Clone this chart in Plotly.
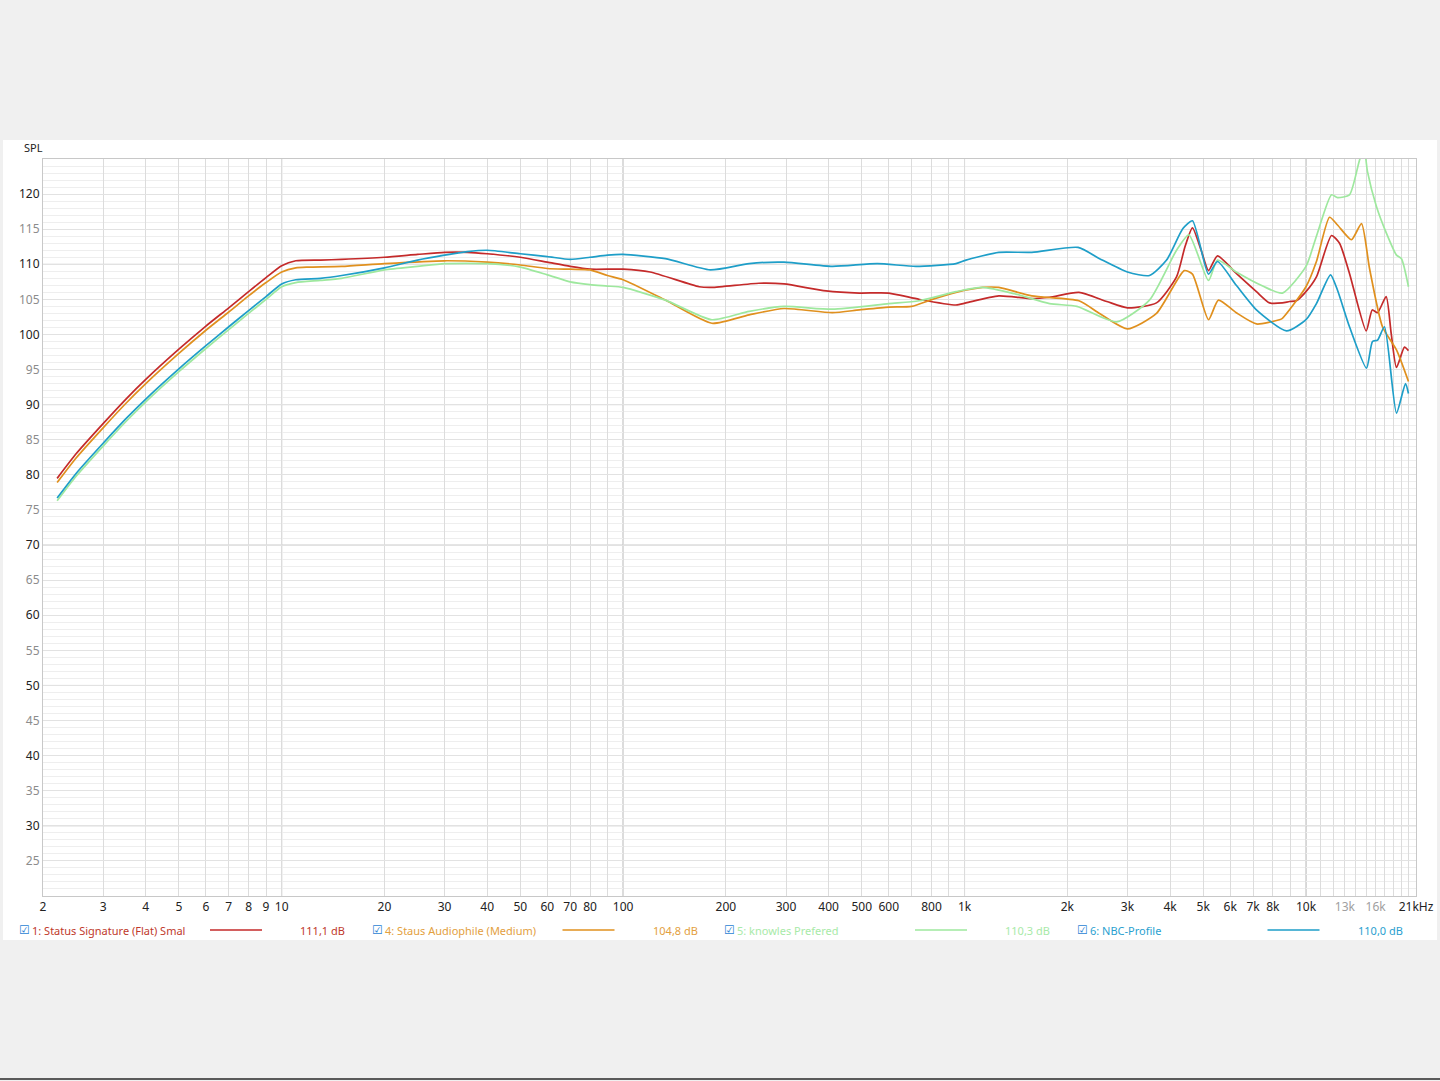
import numpy as np
import plotly.graph_objects as go

# ---------------- data ----------------
red_f = [2.2, 2.5, 3, 3.5, 4, 5, 6, 7, 8, 9, 10, 11, 13, 15, 20, 25, 30, 35, 40, 50, 60, 70, 80,
         100, 120, 167, 182, 250, 296, 393, 492, 600, 736, 944, 1010, 1260, 1574, 1774, 2163,
         2610, 3000, 3648, 4177, 4422, 4650, 4932, 5182, 5506, 6250, 7160, 7820, 8530, 8950,
         9370, 10000, 10730, 11880, 12540, 13410, 15010, 15630, 16200, 17170, 17760, 18410,
         19430, 19960]
red_db = [79.5, 83.0, 87.3, 90.8, 93.6, 97.9, 101.2, 103.8, 106.1, 108.1, 109.8, 110.5, 110.6,
          110.7, 111.0, 111.4, 111.7, 111.7, 111.5, 111.0, 110.3, 109.7, 109.3, 109.3, 108.9,
          106.8, 106.7, 107.3, 107.2, 106.2, 105.9, 105.9, 105.0, 104.2, 104.5, 105.5, 105.1,
          105.3, 106.0, 104.7, 103.8, 104.5, 108.2, 112.5, 115.2, 112.0, 109.1, 111.2, 108.7,
          106.1, 104.5, 104.5, 104.7, 104.8, 106.1, 108.2, 114.1, 113.0, 108.7, 100.5, 103.5,
          103.1, 105.4, 100.2, 95.3, 98.2, 97.7]

orange_f = [2.2, 2.5, 3, 3.5, 4, 5, 6, 7, 8, 9, 10, 11, 12, 15, 20, 30, 40, 50, 60, 70, 80, 90,
            100, 133, 182, 234, 296, 410, 492, 600, 700, 805, 944, 1130, 1260, 1574, 2163, 2486,
            3000, 3648, 4400, 4650, 5182, 5540, 6250, 7160, 8360, 8530, 10000, 10730, 11720,
            12370, 13590, 14540, 15350, 16750, 18410, 19960]
orange_db = [78.9, 82.4, 86.7, 90.2, 93.0, 97.3, 100.6, 103.2, 105.5, 107.4, 108.9, 109.5, 109.6,
             109.7, 110.1, 110.5, 110.3, 109.9, 109.4, 109.3, 109.2, 108.4, 107.8, 104.9, 101.6,
             102.8, 103.7, 103.1, 103.5, 103.9, 104.0, 105.0, 106.0, 106.7, 106.7, 105.5, 104.8,
             103.0, 100.8, 103.0, 109.1, 108.6, 102.1, 104.9, 103.1, 101.5, 102.1, 102.3, 106.8,
             110.4, 116.7, 115.6, 113.5, 115.8, 109.4, 101.1, 97.8, 93.3]

green_f = [2.2, 2.5, 3, 3.5, 4, 5, 6, 7, 8, 9, 10, 11, 13, 15, 20, 25, 30, 40, 50, 60, 70, 80,
           90, 100, 133, 182, 234, 296, 410, 600, 736, 944, 1130, 1400, 1774, 2133, 2790, 3480,
           4177, 4540, 5182, 5506, 6250, 7470, 8530, 10000, 10730, 11880, 12370, 13410, 14340,
           14800, 15140, 16090, 17210, 18410, 19040, 19960]
green_db = [76.3, 79.8, 84.1, 87.6, 90.4, 94.7, 98.0, 100.7, 103.0, 105.0, 106.8, 107.4, 107.7,
            108.0, 109.2, 109.7, 110.1, 110.1, 109.6, 108.5, 107.5, 107.1, 106.9, 106.7, 104.9,
            102.1, 103.3, 104.0, 103.6, 104.4, 104.8, 106.1, 106.7, 105.8, 104.4, 104.0, 101.8,
            104.9, 112.0, 114.2, 107.7, 110.6, 108.9, 106.9, 105.9, 109.7, 114.0, 119.9, 119.5,
            119.9, 124.8, 126.5, 123.2, 118.2, 114.4, 111.3, 110.8, 106.8]

blue_f = [2.2, 2.5, 3, 3.5, 4, 5, 6, 7, 8, 9, 10, 11, 13, 15, 20, 25, 30, 35, 40, 50, 60, 70, 80,
          90, 100, 133, 180, 234, 296, 410, 555, 720, 944, 1010, 1260, 1574, 2150, 2486, 3000,
          3480, 3906, 4361, 4650, 5182, 5506, 6250, 7160, 8770, 10000, 10730, 11800, 12370,
          13410, 15040, 15660, 16200, 16980, 18410, 19560, 19960]
blue_db = [76.7, 80.2, 84.5, 88.0, 90.8, 95.1, 98.4, 101.1, 103.4, 105.4, 107.2, 107.8, 108.0,
           108.4, 109.5, 110.6, 111.3, 111.8, 112.0, 111.5, 111.1, 110.7, 111.0, 111.3, 111.4,
           110.8, 109.2, 110.1, 110.3, 109.7, 110.1, 109.7, 110.1, 110.6, 111.7, 111.7, 112.4,
           110.8, 108.9, 108.4, 110.6, 115.1, 116.2, 108.6, 110.4, 107.0, 103.5, 100.5, 102.1,
           104.4, 108.5, 106.3, 101.1, 95.2, 99.0, 99.2, 101.1, 88.8, 93.0, 91.6]

series_names = ["1: Status Signature (Flat) Smal", "4: Staus Audiophile (Medium)",
                "5: knowles Prefered", "6: NBC-Profile"]
series_values = ["111,1 dB", "104,8 dB", "110,3 dB", "110,0 dB"]
series_colors = ["#c42a2a", "#e0901e", "#9ee89e", "#1e9ec8"]
series_text_colors = ["#c0392b", "#e3a040", "#a8eaa8", "#2a9fd0"]
series_f = [red_f, orange_f, green_f, blue_f]
series_db = [red_db, orange_db, green_db, blue_db]

x_grid_vals = ([2, 3, 4, 5, 6, 7, 8, 9] + [10, 20, 30, 40, 50, 60, 70, 80, 90]
               + [100, 200, 300, 400, 500, 600, 700, 800, 900]
               + [1000, 2000, 3000, 4000, 5000, 6000, 7000, 8000, 9000]
               + [10000, 11000, 12000, 13000, 14000, 15000, 16000, 17000, 18000, 19000, 20000, 21000])
x_tick_labels = {2: "2", 3: "3", 4: "4", 5: "5", 6: "6", 7: "7", 8: "8", 9: "9", 10: "10",
                 20: "20", 30: "30", 40: "40", 50: "50", 60: "60", 70: "70", 80: "80",
                 100: "100", 200: "200", 300: "300", 400: "400", 500: "500", 600: "600",
                 800: "800", 1000: "1k", 2000: "2k", 3000: "3k", 4000: "4k", 5000: "5k",
                 6000: "6k", 7000: "7k", 8000: "8k", 10000: "10k", 13000: "13k",
                 16000: "16k", 21000: "21kHz"}
x_grey_labels = [13000, 16000]
x_decades = [10, 100, 1000, 10000]

y_tick_vals = list(range(25, 121, 5))
y_dark_lines = [30, 50, 70, 90, 110]

# ---------------- layout geometry ----------------
W, H = 1440, 1081
L, R, T, B = 43, 1416, 159, 896


def pxx(x):
    return (x - L) / (R - L)


def pxy(y):
    return (B - y) / (B - T)


fig = go.Figure()

for f, db, c in zip(series_f, series_db, series_colors):
    fig.add_trace(go.Scatter(x=f, y=db, mode="lines",
                             line=dict(color=c, width=1.7, shape="spline", smoothing=0.6),
                             showlegend=False, hoverinfo="skip"))

ticktext = []
for v in x_grid_vals:
    t = x_tick_labels.get(v, "")
    if v in x_grey_labels:
        t = f'<span style="color:#a0a0a0">{t}</span>'
    ticktext.append(t)

y_ticktext = []
for v in y_tick_vals:
    if v % 10 == 0:
        y_ticktext.append(str(v))
    else:
        y_ticktext.append(f'<span style="color:#8c8c8c">{v}</span>')

font_family = "Noto Sans, Open Sans, DejaVu Sans, sans-serif"

fig.update_layout(
    width=W, height=H, autosize=False,
    margin=dict(l=L, r=W - R, t=T, b=H - B, pad=0, autoexpand=False),
    paper_bgcolor="#f0f0f0", plot_bgcolor="#ffffff",
    font=dict(family=font_family, size=12, color="#222222"),
    xaxis=dict(type="log", range=[np.log10(2), np.log10(21000)], automargin=False,
               tickmode="array", tickvals=x_grid_vals, ticktext=ticktext,
               showgrid=True, gridcolor="#dcdcdc", gridwidth=1,
               zeroline=False, ticks="", showline=True, mirror=True,
               linecolor="#c8c8c8", linewidth=1,
               tickfont=dict(size=12, color="#222222")),
    yaxis=dict(range=[20, 125], automargin=False,
               tickmode="array", tickvals=y_tick_vals, ticktext=y_ticktext,
               showgrid=True, gridcolor="#e2e2e2", gridwidth=1,
               minor=dict(dtick=1, tick0=0, showgrid=True, gridcolor="#eeeeee", ticks=""),
               zeroline=False, ticks="", showline=True, mirror=True,
               linecolor="#c8c8c8", linewidth=1,
               tickfont=dict(size=12, color="#222222")),
)

shapes = []
# white panel
shapes.append(dict(type="rect", xref="paper", yref="paper",
                   x0=pxx(3), x1=pxx(1437), y0=pxy(940), y1=pxy(140),
                   fillcolor="#ffffff", line=dict(width=0), layer="below"))
# bottom window border
shapes.append(dict(type="line", xref="paper", yref="paper",
                   x0=pxx(0), x1=pxx(1440), y0=pxy(1079), y1=pxy(1079),
                   line=dict(color="#5a5a5a", width=2)))
# darker grid lines
for v in x_decades:
    shapes.append(dict(type="line", xref="x", yref="paper", x0=v, x1=v, y0=0, y1=1,
                       line=dict(color="#a8a8a8", width=1), layer="below"))
for v in y_dark_lines:
    shapes.append(dict(type="line", xref="paper", yref="y", x0=0, x1=1, y0=v, y1=v,
                       line=dict(color="#c6c6c6", width=1), layer="below"))

# legend rows
legend_y = 930
item_step = 352.5
for i, (name, val, lc, tc) in enumerate(zip(series_names, series_values, series_colors,
                                           series_text_colors)):
    x0 = 17 + i * item_step
    fig.add_annotation(x=pxx(x0), y=pxy(legend_y), xref="paper", yref="paper",
                       text="☑", showarrow=False, xanchor="left", yanchor="middle",
                       font=dict(size=12, color="#2a7fd4",
                                 family="DejaVu Sans, sans-serif"))
    fig.add_annotation(x=pxx(x0 + 13), y=pxy(legend_y), xref="paper", yref="paper",
                       text=name, showarrow=False, xanchor="left", yanchor="middle",
                       font=dict(size=11, color=tc))
    shapes.append(dict(type="line", xref="paper", yref="paper",
                       x0=pxx(x0 + 193), x1=pxx(x0 + 245),
                       y0=pxy(legend_y), y1=pxy(legend_y),
                       line=dict(color=lc, width=1.5)))
    fig.add_annotation(x=pxx(x0 + 330), y=pxy(legend_y), xref="paper", yref="paper",
                       text=val, showarrow=False, xanchor="right", yanchor="middle",
                       font=dict(size=11, color=tc))

fig.add_annotation(x=pxx(22), y=pxy(147), xref="paper", yref="paper", text="SPL",
                   showarrow=False, xanchor="left", yanchor="middle",
                   font=dict(size=11, color="#222222"))

fig.update_layout(shapes=shapes)
fig.write_html("out.html", config={"displayModeBar": False},
               post_script="document.body.style.margin='0';document.body.style.overflow='hidden';")
